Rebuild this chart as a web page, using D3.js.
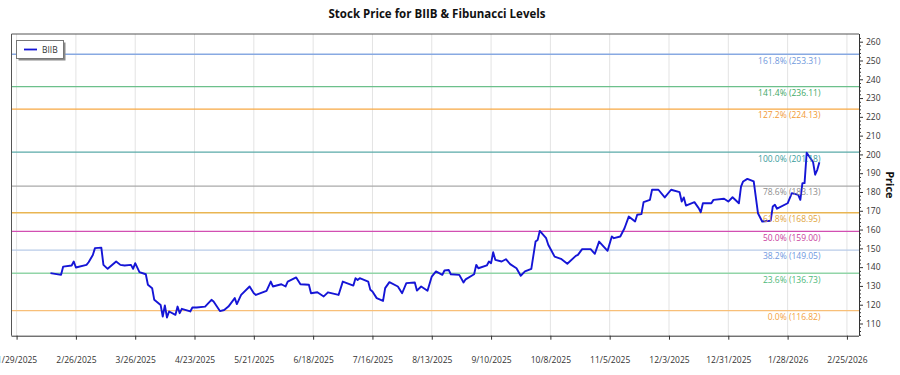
<!DOCTYPE html>
<html><head><meta charset="utf-8">
<script src="https://cdn.jsdelivr.net/npm/d3@7"></script>
<style>
html,body{margin:0;padding:0;background:#fff;}
svg{display:block;font-family:"Open Sans","Noto Sans",sans-serif;}
</style></head>
<body>
<svg id="chart" width="900" height="375"></svg>
<script>
const titleText = "Stock Price for BIIB & Fibunacci Levels";
const seriesName = "BIIB";
const yAxisLabel = "Price";

const dates = ["2025-02-14","2025-02-19","2025-02-20","2025-02-24","2025-02-25","2025-02-26","2025-03-03","2025-03-04","2025-03-06","2025-03-07",
"2025-03-10","2025-03-11","2025-03-13","2025-03-17","2025-03-19","2025-03-21","2025-03-24","2025-03-25","2025-03-26","2025-03-28",
"2025-03-31","2025-04-01","2025-04-03","2025-04-04","2025-04-07","2025-04-08","2025-04-09","2025-04-10","2025-04-11","2025-04-14",
"2025-04-15","2025-04-16","2025-04-17","2025-04-21","2025-04-22","2025-04-24","2025-04-28","2025-05-01","2025-05-02","2025-05-05",
"2025-05-07","2025-05-08","2025-05-09","2025-05-12","2025-05-13","2025-05-15","2025-05-19","2025-05-21","2025-05-22","2025-05-27",
"2025-05-29","2025-05-30","2025-06-03","2025-06-05","2025-06-06","2025-06-10","2025-06-12","2025-06-16","2025-06-17","2025-06-20",
"2025-06-23","2025-06-25","2025-06-30","2025-07-02","2025-07-07","2025-07-08","2025-07-09","2025-07-10","2025-07-14","2025-07-15",
"2025-07-16","2025-07-18","2025-07-21","2025-07-22","2025-07-24","2025-07-28","2025-07-30","2025-08-01","2025-08-05","2025-08-06",
"2025-08-08","2025-08-11","2025-08-13","2025-08-15","2025-08-18","2025-08-19","2025-08-21","2025-08-22","2025-08-26","2025-08-28",
"2025-08-29","2025-09-02","2025-09-03","2025-09-04","2025-09-08","2025-09-09","2025-09-10","2025-09-11","2025-09-12","2025-09-15",
"2025-09-17","2025-09-19","2025-09-22","2025-09-24","2025-09-26","2025-09-29","2025-10-01","2025-10-02","2025-10-03","2025-10-06",
"2025-10-07","2025-10-10","2025-10-13","2025-10-16","2025-10-20","2025-10-21","2025-10-23","2025-10-27","2025-10-29","2025-10-31",
"2025-11-04","2025-11-06","2025-11-07","2025-11-10","2025-11-12","2025-11-14","2025-11-17","2025-11-18","2025-11-20","2025-11-21",
"2025-11-24","2025-11-25","2025-11-28","2025-12-01","2025-12-04","2025-12-08","2025-12-09","2025-12-10","2025-12-11","2025-12-15",
"2025-12-17","2025-12-18","2025-12-19","2025-12-23","2025-12-24","2025-12-29","2025-12-31","2026-01-02","2026-01-05","2026-01-06",
"2026-01-07","2026-01-09","2026-01-12","2026-01-14","2026-01-16","2026-01-20","2026-01-21","2026-01-22","2026-01-23","2026-01-28",
"2026-01-30","2026-02-02","2026-02-03","2026-02-04","2026-02-05","2026-02-06","2026-02-09","2026-02-10","2026-02-11","2026-02-12"];

const prices = [136.8,135.9,140.3,140.9,143.0,139.8,141.2,142.6,146.5,150.1,
150.4,141.2,139.1,143.0,141.2,140.9,141.2,139.1,142.1,137.3,
136.2,130.6,128.8,122.6,119.9,113.7,119.6,113.2,116.4,114.6,
119.0,115.5,117.8,116.4,118.5,118.5,119.0,122.6,121.7,116.6,
117.2,118.1,119.0,123.5,120.3,125.2,129.7,126.1,125.2,127.4,
132.3,129.7,130.9,129.7,132.3,134.5,130.9,130.6,126.1,126.6,
124.4,126.6,125.2,132.3,130.2,134.1,133.2,134.1,132.3,127.9,
127.0,123.5,122.0,128.8,132.0,129.7,126.1,131.5,131.8,127.5,
129.7,127.4,135.0,137.7,135.9,138.2,138.5,136.2,135.9,131.8,
133.5,136.2,141.2,139.4,140.9,143.0,142.1,147.9,143.9,143.0,
144.2,141.6,139.4,135.4,137.7,139.1,153.6,154.5,159.3,155.4,
151.9,145.6,144.4,141.8,146.0,146.5,149.6,149.6,147.1,153.6,
148.7,156.3,155.4,156.3,160.7,166.9,164.3,167.9,168.2,174.6,
175.8,181.2,181.2,177.1,181.2,179.9,174.9,177.1,172.8,174.6,
171.4,169.2,174.0,174.0,175.8,176.4,174.9,177.2,174.0,182.9,
185.6,187.0,185.6,168.7,164.3,164.7,172.3,173.2,171.1,174.0,
179.4,178.5,175.8,184.7,184.7,200.9,196.0,189.2,191.8,195.8];

const fibPercents = ["0.0%","23.6%","38.2%","50.0%","61.8%","78.6%","100.0%","127.2%","141.4%","161.8%"];
const fibValues = [116.82,136.73,149.05,159.00,168.95,183.13,201.18,224.13,236.11,253.31];
const fibLineColors = ["#f8bf78","#92d5a8","#b8cbe8","#d24fb2","#e9b552","#aaaaaa","#5aaaa8","#f7a843","#6cc08b","#88a9e2"];
const fibTextColors = ["#f3a23d","#4db879","#6f98e0","#c8409c","#e0a33a","#8e8e8e","#3a9c9c","#f29a35","#3fa866","#6f98dc"];

const xTickDates = ["2025-01-29","2025-02-26","2025-03-26","2025-04-23","2025-05-21","2025-06-18","2025-07-16","2025-08-13",
"2025-09-10","2025-10-08","2025-11-05","2025-12-03","2025-12-31","2026-01-28","2026-02-25"];
const yTicks = [110,120,130,140,150,160,170,180,190,200,210,220,230,240,250,260];

const parse = d3.utcParse("%Y-%m-%d");
const data = dates.map((d,i)=>({date:parse(d), value:prices[i]}));
const xt = xTickDates.map(parse);

const L = 11.5, R = 859, T = 34, B = 335.7;
const DAY = 86400000;
const first = data[0].date.getTime(), last = data[data.length-1].date.getTime();
const pad = 18.4*DAY;
const x = d3.scaleUtc().domain([new Date(first - pad - 0.0*DAY), new Date(last + pad + 0.3*DAY)]).range([L, R]);
const y = d3.scaleLinear().domain([103.5, 264.1]).range([B, T]);

const svg = d3.select("#chart");

// vertical grid
svg.append("g").selectAll("line").data(xt).join("line")
  .attr("x1", d=>x(d)).attr("x2", d=>x(d)).attr("y1", T).attr("y2", B)
  .attr("stroke", "#e3e3e3").attr("stroke-width", 1);

// fib lines
const fib = fibValues.map((v,i)=>({v, p:fibPercents[i], lc:fibLineColors[i], tc:fibTextColors[i]}));
svg.append("g").selectAll("line").data(fib).join("line")
  .attr("x1", L).attr("x2", R).attr("y1", d=>y(d.v)).attr("y2", d=>y(d.v))
  .attr("stroke", d=>d.lc).attr("stroke-width", 1.3);

// price line
svg.append("path").datum(data)
  .attr("fill","none").attr("stroke","#1515d6").attr("stroke-width",1.9).attr("stroke-linejoin","round")
  .attr("d", d3.line().x(d=>x(d.date)).y(d=>y(d.value)));

// fib labels
svg.append("g").selectAll("text").data(fib).join("text")
  .attr("x", 820.5).attr("y", d=>y(d.v)+9.3).attr("text-anchor","end")
  .attr("font-size", 8.5).attr("fill", d=>d.tc)
  .text(d=>`${d.p} (${d.v.toFixed(2)})`);

// frame
svg.append("path").attr("d", `M${R},${T}H${L}V${B}`).attr("fill","none").attr("stroke","#555").attr("stroke-width",1);

// x axis
const xAxis = svg.append("g").attr("transform",`translate(0,${B})`)
  .call(d3.axisBottom(x).tickValues(xt).tickSize(4).tickPadding(17).tickFormat(d3.utcFormat("%-m/%-d/%Y")));
xAxis.select(".domain").attr("d", `M${L},0.5H${R}`).attr("stroke","#333");
xAxis.selectAll(".tick line").attr("stroke","#333");
xAxis.selectAll("text").attr("font-size", 8.5).attr("fill","#333").attr("font-family","'Open Sans',sans-serif");

// y axis minor
const minor = d3.range(104, 264, 2).filter(v=>v%10!==0);
svg.append("g").attr("transform",`translate(${R},0)`)
  .call(d3.axisRight(y).tickValues(minor).tickSize(2).tickFormat(""))
  .call(g=>g.select(".domain").remove())
  .selectAll("line").attr("stroke","#333");
const yAxis = svg.append("g").attr("transform",`translate(${R},0)`)
  .call(d3.axisRight(y).tickValues(yTicks).tickSize(4).tickPadding(3));
yAxis.select(".domain").attr("d", `M0.5,${T}V${B}`).attr("stroke","#333");
yAxis.selectAll(".tick line").attr("stroke","#333");
yAxis.selectAll("text").attr("font-size", 8.5).attr("fill","#333").attr("font-family","'Open Sans',sans-serif");

// y label
svg.append("text").attr("transform", `translate(886,${(T+B)/2}) rotate(90)`)
  .attr("text-anchor","middle").attr("font-size",11).attr("font-weight","bold").attr("fill","#111")
  .text(yAxisLabel);

// title
svg.append("text").attr("x", 437).attr("y", 18).attr("text-anchor","middle")
  .attr("font-size", 11.5).attr("font-weight","bold").attr("fill","#111").text(titleText);

// legend
const lg = svg.append("g");
lg.append("rect").attr("x",18.5).attr("y",42.5).attr("width",47).attr("height",18).attr("fill","#8a8a8a");
lg.append("rect").attr("x",16.5).attr("y",40.5).attr("width",47).attr("height",18).attr("fill","#fff").attr("stroke","#777");
lg.append("line").attr("x1",24).attr("x2",37).attr("y1",49.5).attr("y2",49.5).attr("stroke","#1515d6").attr("stroke-width",1.8);
lg.append("text").attr("x",42).attr("y",52.5).attr("font-size",8.5).attr("fill","#333").text(seriesName);
</script>
</body></html>
